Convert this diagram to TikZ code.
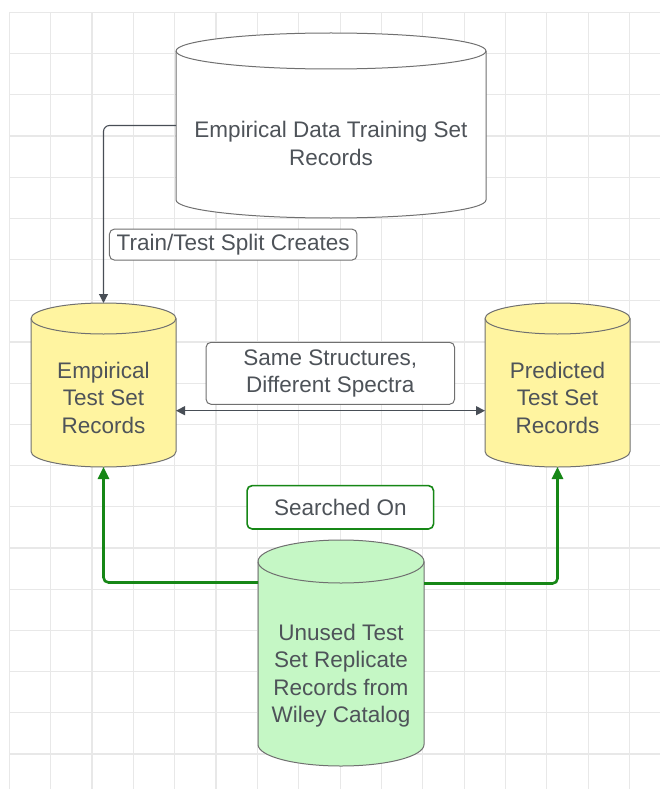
\documentclass[tikz,border=0pt]{standalone}
\usepackage{fontspec}
\setmainfont{Liberation Sans}
\usetikzlibrary{arrows.meta,calc}
\definecolor{gridc}{RGB}{232,232,232}
\definecolor{txt}{RGB}{78,83,89}
\definecolor{edgec}{RGB}{112,112,112}
\definecolor{conn}{RGB}{72,78,86}
\definecolor{yel}{RGB}{255,244,160}
\definecolor{grn}{RGB}{197,247,197}
\definecolor{gline}{RGB}{22,135,22}
\newcommand\dbcyl[6]{%
  \pgfmathsetmacro\rxx{(#2-#1)/2}%
  \filldraw[cylline, fill=#6] (#1,#3+#5) -- (#1,#4-#5)
    arc[start angle=180,end angle=360,x radius=\rxx pt,y radius=#5pt]
    -- (#2,#3+#5)
    arc[start angle=0,end angle=180,x radius=\rxx pt,y radius=#5pt] -- cycle;
  \draw[cylline] (#1,#3+#5) arc[start angle=180,end angle=360,x radius=\rxx pt,y radius=#5pt];
}
\tikzset{
  gridline/.style={draw=gridc, line width=1.2pt},
  cylline/.style={draw=edgec, line width=1pt},
  anchorbox/.style={rectangle, inner sep=0pt, outer sep=0pt},
  cyltext/.style={text=txt, align=center, font=\fontsize{22.5}{27.5}\selectfont, inner sep=0pt},
  conn/.style={draw=conn, line width=1.1pt},
  gconn/.style={draw=gline, line width=2.6pt},
  tipd/.style={},
  lbl/.style={draw=edgec, line width=1pt, fill=white, rounded corners=5pt, text=txt,
    align=center, font=\fontsize{22.5}{27.5}\selectfont, inner sep=0pt},
}
\begin{document}
\begin{tikzpicture}[x=1pt,y=-1pt]
\fill[white] (0,0) rectangle (660,789);
\useasboundingbox (0,0) rectangle (660,789);
% grid
\foreach \i in {0,...,15} \draw[gridline] (9.3+41.35*\i,12.3) -- (9.3+41.35*\i,789);
\foreach \j in {0,...,18} \draw[gridline] (9.3,12.3+41.2*\j) -- (660,12.3+41.2*\j);
% cylinders
\dbcyl{176}{486}{33}{218}{18}{white}
\dbcyl{31}{176}{303}{467}{15.5}{yel}
\dbcyl{485}{630}{303}{467}{15.5}{yel}
\dbcyl{258}{424}{540}{766}{21.5}{grn}
% anchor nodes
\node[anchorbox, minimum width=310pt, minimum height=185pt] (train) at (331,125.5) {};
\node[anchorbox, minimum width=145pt, minimum height=164pt] (emp) at (103.5,385) {};
\node[anchorbox, minimum width=145pt, minimum height=164pt] (pred) at (557.5,385) {};
\node[anchorbox, minimum width=166pt, minimum height=226pt] (unused) at (341,653) {};
% connectors
\draw[conn, rounded corners=6pt, -{Triangle[length=9pt,width=9pt]}] (train.west) -| (emp.north);
\draw[conn, {Triangle[length=9pt,width=9pt]}-{Triangle[length=9pt,width=9pt]}]
  ([yshift=-25.7pt]emp.east) -- ([yshift=-25.7pt]pred.west);
\draw[gconn, rounded corners=5pt, -{Triangle[length=12pt,width=11pt]}] ([yshift=70.5pt]unused.west) -| (emp.south);
\draw[gconn, rounded corners=5pt, -{Triangle[length=12pt,width=11pt]}] ([yshift=69.5pt]unused.east) -| (pred.south);
% labels
\node[lbl, minimum width=247.5pt, minimum height=31pt] (split) at (233.2,244.6) {Train/Test Split Creates};
\node[lbl, minimum width=248.5pt, minimum height=62pt] (same) at (330.3,373.3) {Same Structures,\\Different Spectra};
\node[lbl, draw=gline, line width=1.6pt, minimum width=186.5pt, minimum height=43.3pt] (searched) at (340.3,507.3) {Searched On};
% cylinder texts
\node[cyltext] (ttrain) at (331,143.5) {Empirical Data Training Set\\Records};
\node[cyltext] (temp) at (103.5,397.7) {Empirical\\Test Set\\Records};
\node[cyltext] (tpred) at (557.5,397.7) {Predicted\\Test Set\\Records};
\node[cyltext] (tunused) at (341,675.5) {Unused Test\\Set Replicate\\Records from\\Wiley Catalog};
\end{tikzpicture}
\end{document}
